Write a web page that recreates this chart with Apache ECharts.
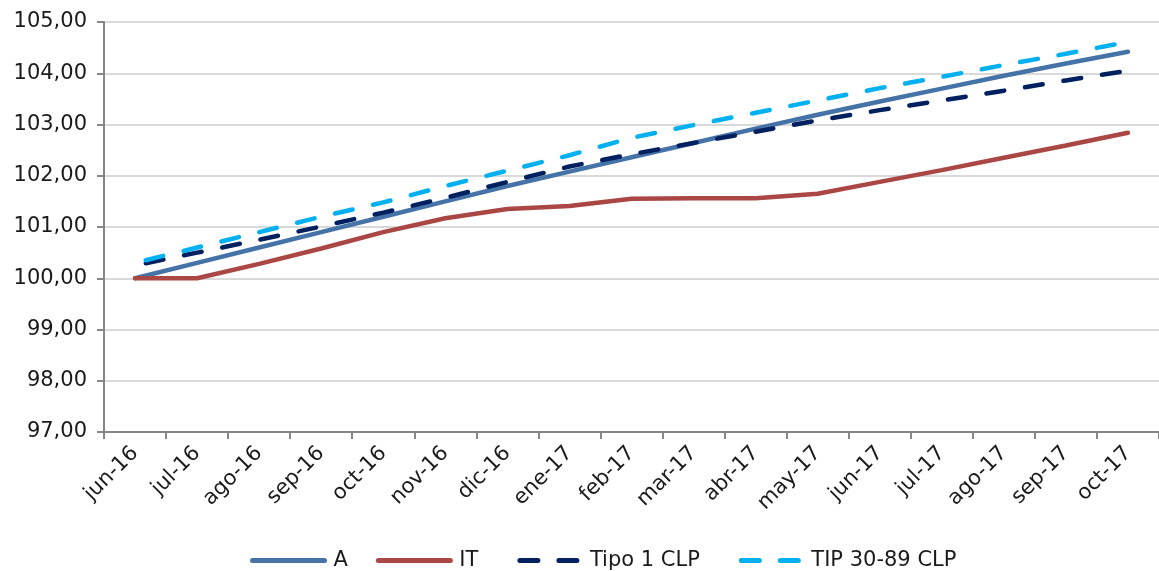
<!DOCTYPE html>
<html>
<head>
<meta charset="utf-8">
<script src="https://cdn.jsdelivr.net/npm/echarts@6/dist/echarts.min.js"></script>
<style>
html,body{margin:0;padding:0;background:#fff;}
#chart{width:1159px;height:571px;}
</style>
</head>
<body>
<div id="chart"></div>
<script>
const categories = ['jun-16','jul-16','ago-16','sep-16','oct-16','nov-16','dic-16','ene-17','feb-17','mar-17','abr-17','may-17','jun-17','jul-17','ago-17','sep-17','oct-17'];
const seriesA = [100.00,100.30,100.60,100.90,101.20,101.50,101.80,102.08,102.36,102.64,102.92,103.19,103.45,103.70,103.95,104.19,104.42];
const seriesIT = [100.00,100.00,100.28,100.58,100.90,101.17,101.35,101.41,101.55,101.56,101.56,101.65,101.88,102.11,102.35,102.59,102.84];
const seriesTipo1 = [100.25,100.50,100.75,101.01,101.28,101.57,101.88,102.18,102.42,102.64,102.86,103.08,103.28,103.47,103.66,103.86,104.05];
const seriesTIP = [100.30,100.60,100.90,101.20,101.48,101.80,102.10,102.40,102.74,102.99,103.23,103.47,103.71,103.93,104.16,104.38,104.61];
const seriesNames = ['A','IT','Tipo 1 CLP','TIP 30-89 CLP'];

const FONT = 'Verdana, "DejaVu Sans", sans-serif';
const chart = echarts.init(document.getElementById('chart'));
function mk(name, data, color, dashed) {
  return {
    name: name, type: 'line', data: data, symbol: 'none', smooth: false,
    lineStyle: dashed
      ? { color: color, width: 4.5, type: [18, 21], dashOffset: 28, cap: 'round' }
      : { color: color, width: 4.5, type: 'solid', cap: 'round' },
    itemStyle: { color: color }
  };
}
chart.setOption({
  animation: false,
  backgroundColor: '#ffffff',
  grid: { left: 104, top: 22, width: 1067, height: 410 },
  legend: {
    data: seriesNames,
    left: 245, top: 545,
    itemWidth: 72, itemHeight: 14, itemGap: 28,
    itemStyle: { opacity: 0 },
    lineStyle: { width: 5 },
    textStyle: { fontFamily: FONT, fontSize: 21, color: '#1a1a1a', padding: [0, 0, 0, 4] }
  },
  xAxis: {
    type: 'category', data: categories, boundaryGap: true,
    axisLine: { lineStyle: { color: '#868686', width: 2 } },
    axisTick: { show: true, length: 7, lineStyle: { color: '#868686', width: 2 } },
    axisLabel: { rotate: 45, fontFamily: FONT, fontSize: 21, color: '#1a1a1a', margin: 18, interval: 0 },
    splitLine: { show: false }
  },
  yAxis: {
    type: 'value', min: 97, max: 105, interval: 1,
    axisLine: { show: true, lineStyle: { color: '#868686', width: 2 } },
    axisTick: { show: true, length: 7, lineStyle: { color: '#868686', width: 2 } },
    axisLabel: { fontFamily: FONT, fontSize: 21, color: '#1a1a1a', margin: 17,
      formatter: v => v.toFixed(2).replace('.', ',') },
    splitLine: { show: true, lineStyle: { color: '#d9d9d9', width: 2 } }
  },
  series: [
    mk('A', seriesA, '#4572a7', false),
    mk('IT', seriesIT, '#aa4643', false),
    mk('Tipo 1 CLP', seriesTipo1, '#002060', true),
    mk('TIP 30-89 CLP', seriesTIP, '#00b0f0', true)
  ]
});
</script>
</body>
</html>
